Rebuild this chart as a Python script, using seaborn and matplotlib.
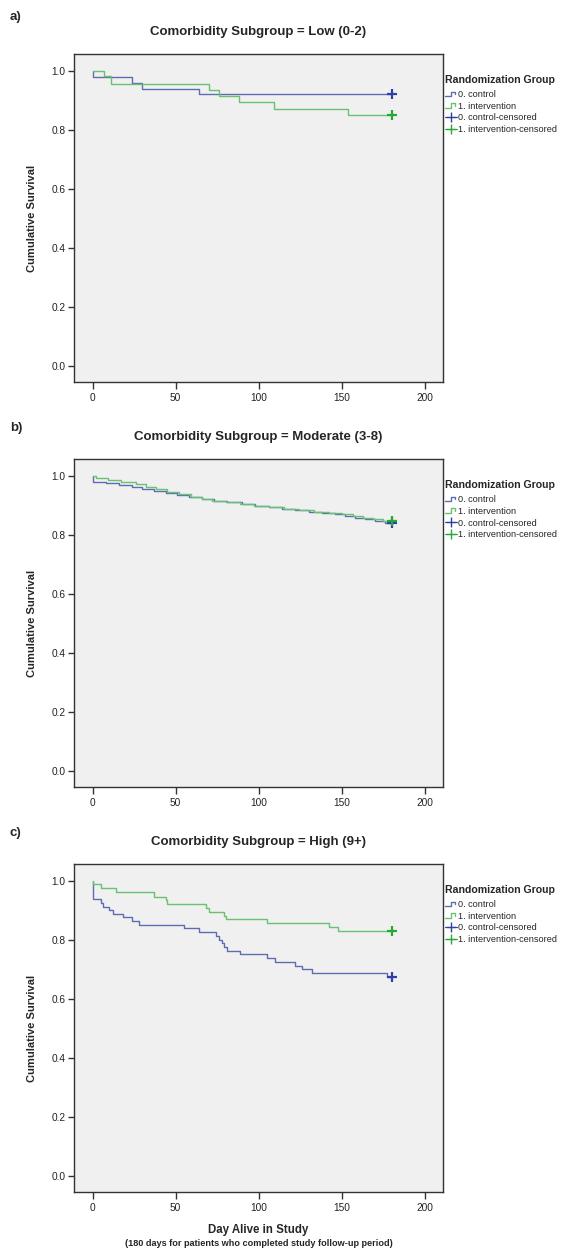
import numpy as np
import pandas as pd
import seaborn as sns
import matplotlib.pyplot as plt
from matplotlib.lines import Line2D
from matplotlib.legend_handler import HandlerBase

# --- data (day, cumulative survival at step) ---
groups = ["0. control", "1. intervention"]

low_ctrl_days = [0, 0, 24, 30, 64, 180]
low_ctrl_surv = [1.0, 0.980, 0.960, 0.941, 0.921, 0.921]
low_int_days = [0, 7, 11, 70, 76, 88, 109, 154, 180]
low_int_surv = [1.0, 0.983, 0.957, 0.936, 0.915, 0.894, 0.872, 0.851, 0.851]

mod_ctrl_days = [0, 0, 8, 16, 24, 30, 37, 44, 51, 58, 66, 73, 81, 90, 98,
                 106, 114, 122, 130, 138, 146, 152, 158, 164, 170, 176, 180]
mod_ctrl_surv = [1.0, 0.980, 0.975, 0.970, 0.963, 0.957, 0.950, 0.944, 0.937, 0.930,
                 0.923, 0.917, 0.911, 0.905, 0.900, 0.895, 0.890, 0.885, 0.880, 0.876,
                 0.872, 0.866, 0.859, 0.853, 0.848, 0.842, 0.842]
mod_int_days = [0, 2, 9, 17, 26, 32, 38, 45, 52, 59, 66, 72, 80, 89, 97,
                106, 115, 124, 133, 142, 150, 157, 163, 169, 175, 180]
mod_int_surv = [1.0, 0.993, 0.987, 0.981, 0.974, 0.964, 0.955, 0.946, 0.938, 0.930,
                0.923, 0.917, 0.911, 0.905, 0.899, 0.894, 0.889, 0.884, 0.879, 0.875,
                0.870, 0.864, 0.859, 0.854, 0.849, 0.849]

high_ctrl_days = [0, 0, 5, 6, 10, 12, 18, 24, 28, 55, 64, 74, 76, 78, 79, 81, 89,
                  105, 110, 122, 126, 132, 177, 180]
high_ctrl_surv = [1.0, 0.941, 0.927, 0.913, 0.902, 0.888, 0.877, 0.864, 0.851, 0.840,
                  0.826, 0.813, 0.800, 0.789, 0.776, 0.764, 0.752, 0.738, 0.725, 0.713,
                  0.701, 0.689, 0.676, 0.676]
high_int_days = [0, 0, 5, 14, 37, 44, 45, 68, 70, 79, 80, 105, 142, 148, 180]
high_int_surv = [1.0, 0.989, 0.975, 0.962, 0.947, 0.936, 0.922, 0.909, 0.896, 0.882,
                 0.870, 0.857, 0.843, 0.830, 0.830]

panel_letters = ["a)", "b)", "c)"]
panel_titles = ["Comorbidity Subgroup = Low (0-2)",
                "Comorbidity Subgroup = Moderate (3-8)",
                "Comorbidity Subgroup = High (9+)"]
legend_labels = ["0. control", "1. intervention",
                 "0. control-censored", "1. intervention-censored"]

line_cols = {"0. control": "#5d6db0", "1. intervention": "#69c273"}
cens_cols = {"0. control": "#2f3fa8", "1. intervention": "#27a836"}


def km_frame(days, surv, group):
    return pd.DataFrame({"day": days, "surv": surv, "group": group})


panels = [
    pd.concat([km_frame(low_ctrl_days, low_ctrl_surv, groups[0]),
               km_frame(low_int_days, low_int_surv, groups[1])]),
    pd.concat([km_frame(mod_ctrl_days, mod_ctrl_surv, groups[0]),
               km_frame(mod_int_days, mod_int_surv, groups[1])]),
    pd.concat([km_frame(high_ctrl_days, high_ctrl_surv, groups[0]),
               km_frame(high_int_days, high_int_surv, groups[1])]),
]


class StepHandler(HandlerBase):
    # little step glyph like the SPSS legend
    def create_artists(self, legend, orig, xd, yd, w, h, fontsize, trans):
        x0, x1 = -xd, -xd + w
        xm = x0 + 0.5 * w
        ln = Line2D([x0, xm, xm, x1 - 1, x1 - 1],
                    [-yd + 0.15 * h, -yd + 0.15 * h, -yd + 0.85 * h, -yd + 0.85 * h, -yd + 0.45 * h],
                    color=orig.get_color(), lw=1.0, transform=trans)
        return [ln]


sns.set_style("white")
plt.rcParams['font.family'] = ['Liberation Sans', 'DejaVu Sans']

W, H = 573, 1251
fig = plt.figure(figsize=(W / 100, H / 100), dpi=100)

ax_left, ax_right = 74, 443
letter_y = [17, 428, 833]
for i, df in enumerate(panels):
    top = 54 + 405 * i
    bot = 382 + 405 * i
    ax = fig.add_axes([ax_left / W, 1 - bot / H, (ax_right - ax_left) / W, (bot - top) / H])
    ax.set_facecolor("#f0f0f0")

    sns.lineplot(data=df, x="day", y="surv", hue="group", palette=line_cols,
                 drawstyle="steps-post", estimator=None, sort=False,
                 lw=1.0, legend=False, ax=ax)
    ends = df.groupby("group").tail(1)
    sns.scatterplot(data=ends, x="day", y="surv", hue="group", palette=cens_cols,
                    marker="+", s=50, linewidth=1.6, legend=False, ax=ax, zorder=5)

    ax.set_xlim(-11.2, 210.9)
    ax.set_ylim(-0.054, 1.058)
    ax.set_xticks([0, 50, 100, 150, 200])
    ax.set_yticks([0.0, 0.2, 0.4, 0.6, 0.8, 1.0])
    ax.set_yticklabels([f"{v:.1f}" for v in [0.0, 0.2, 0.4, 0.6, 0.8, 1.0]])
    ax.tick_params(axis="both", direction="out", length=4, width=1.0, color="#333333",
                   labelsize=7.3, labelcolor="#222222", pad=2, left=True, bottom=True)
    ax.tick_params(axis="x", length=5, pad=3)
    for sp in ax.spines.values():
        sp.set_color("#333333")
        sp.set_linewidth(1.0)
    ax.set_xlabel("")
    ax.set_ylabel("Cumulative Survival", fontsize=8, fontweight="bold")
    ax.yaxis.set_label_coords(-0.1, 0.5)

    # legend title as separate text so the gap can match SPSS
    ax.text(1.005, (bot - top - 26) / (bot - top), "Randomization Group",
            transform=ax.transAxes, fontsize=7.6, fontweight="bold",
            ha="left", va="center", clip_on=False)
    handles = [Line2D([0], [0], color=line_cols[groups[0]]),
               Line2D([0], [0], color=line_cols[groups[1]]),
               Line2D([0], [0], color=cens_cols[groups[0]], marker="+", markersize=7, lw=0.8),
               Line2D([0], [0], color=cens_cols[groups[1]], marker="+", markersize=7, lw=0.8)]
    leg = ax.legend(handles, legend_labels,
                    loc="upper left", bbox_to_anchor=(1.005, (bot - top - 36) / (bot - top)),
                    frameon=False, fontsize=6.6,
                    handlelength=1.3, handletextpad=0.15, labelspacing=0.3,
                    borderpad=0, borderaxespad=0,
                    handler_map={handles[0]: StepHandler(), handles[1]: StepHandler()})

    fig.text(10 / W, 1 - letter_y[i] / H, panel_letters[i], fontsize=9.5,
             fontweight="bold", ha="left", va="center")
    fig.text(258.5 / W, 1 - (32 + 405 * i) / H, panel_titles[i], fontsize=9.5,
             fontweight="bold", ha="center", va="center")

fig.text(258.5 / W, 1 - 1230 / H, "Day Alive in Study", fontsize=8.3,
         fontweight="bold", ha="center", va="center")
fig.text(258.5 / W, 1 - 1244 / H,
         "(180 days for patients who completed study follow-up period)",
         fontsize=6.6, fontweight="bold", ha="center", va="center")

fig.savefig("out.png", dpi=100, facecolor="white")
